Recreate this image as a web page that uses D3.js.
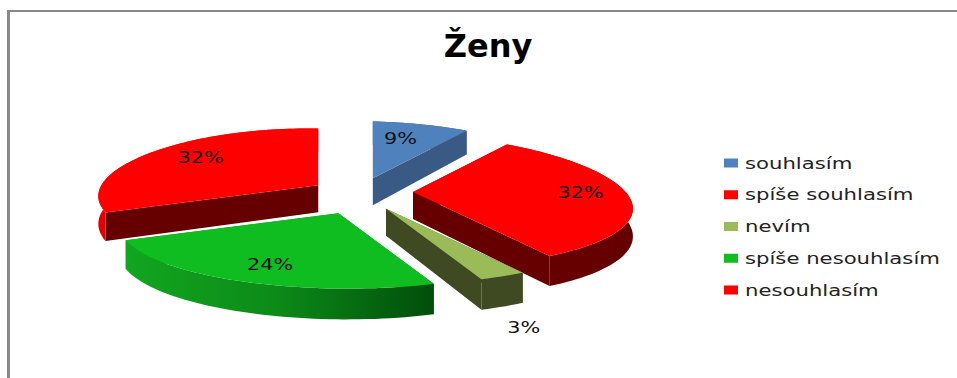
<!DOCTYPE html>
<html>
<head>
<meta charset="utf-8">
<script src="https://cdn.jsdelivr.net/npm/d3@7"></script>
<style>
  html, body { margin: 0; padding: 0; background: #fff; }
  svg { display: block; }
  text { font-family: "DejaVu Sans", sans-serif; }
</style>
</head>
<body>
<svg id="chart" width="957" height="378"></svg>
<script>
/* Data */
const categories = ["souhlasím", "spíše souhlasím", "nevím", "spíše nesouhlasím", "nesouhlasím"];
const shares = [9, 32, 3, 24, 32];
const title = "Ženy";

/* Colours per slice */
const topColors = ["#4f81bd", "#ff0000", "#9bbb59", "#0fbd21", "#ff0000"];
const cutColors = ["#3a5a86", "#660000", "#404a22", "#0c9a1a", "#660000"];
const wallColors = ["#3a5a86", "#660000", "#404a22", "url(#green-wall)", "#e00000"];

/* Pie geometry */
const cx = 360, cy = 192;
const radius = 215, tilt = 0.307, perspectiveX = 0.22, perspectiveY = 0.14;
const depth = 27, explode = 53, explodeTilt = 0.27;

/* Small per-slice shifts of the apex, and label nudges from 0.7 radius */
const apexNudge = [[-2, 0], [0, 0], [2, 4], [-2, 8], [3, 1]];
const labelNudge = [[-8, 0], [17, -2], [60, 73], [-5, 5], [-1, -3]];

const svg = d3.select("#chart");
const defs = svg.append("defs");

const greenWall = defs.append("linearGradient")
    .attr("id", "green-wall")
    .attr("gradientUnits", "userSpaceOnUse")
    .attr("x1", 125).attr("x2", 430).attr("y1", 0).attr("y2", 0);
greenWall.append("stop").attr("offset", "0").attr("stop-color", "#12a620");
greenWall.append("stop").attr("offset", "0.5").attr("stop-color", "#0c8a18");
greenWall.append("stop").attr("offset", "1").attr("stop-color", "#014f0b");

/* Frame */
svg.append("line")
    .attr("x1", 8.5).attr("x2", 8.5).attr("y1", 10).attr("y2", 378)
    .attr("stroke", "#888").attr("stroke-width", 3);
svg.append("line")
    .attr("x1", 7).attr("x2", 957).attr("y1", 11).attr("y2", 11)
    .attr("stroke", "#888").attr("stroke-width", 2);

/* Project a pie point: angle a, distance r from the slice apex */
function project(slice, a, r, drop) {
    const mid = (slice.startAngle + slice.endAngle) / 2;
    const nudge = apexNudge[slice.index];
    const depthPos = (r * Math.cos(a)) / radius;
    const sx = 1 - perspectiveX * depthPos;
    const sy = 1 - perspectiveY * depthPos;
    const ax = cx + explode * Math.sin(mid) + nudge[0];
    const ay = cy - explode * explodeTilt * Math.cos(mid) + nudge[1];
    return [
        ax + r * Math.sin(a) * sx,
        ay - r * Math.cos(a) * tilt * sy + (drop ? depth * sy : 0) + 3 * Math.sin(a) * r / radius
    ];
}

function arcAngles(a0, a1) {
    const n = Math.max(2, Math.ceil((a1 - a0) / 0.03));
    return d3.range(n + 1).map(i => a0 + (a1 - a0) * i / n);
}

const line = d3.line().curve(d3.curveLinear);
const pie = d3.pie().sort(null).value(d => d)(shares);

/* Draw back slices first */
const drawOrder = [0, 4, 1, 3, 2];

drawOrder.forEach(i => {
    const d = pie[i];
    const g = svg.append("g").attr("class", "slice");
    const angles = arcAngles(d.startAngle, d.endAngle);
    const rim = angles.map(a => project(d, a, radius));
    const rimLow = angles.map(a => project(d, a, radius, true)).reverse();

    // cut faces at both edges of the slice
    [d.startAngle, d.endAngle].forEach(a => {
        const pts = [project(d, a, 0), project(d, a, radius), project(d, a, radius, true), project(d, a, 0, true)];
        g.append("path").attr("d", line(pts) + "Z").attr("fill", cutColors[i]);
    });

    // outer wall
    g.append("path").attr("d", line(rim.concat(rimLow)) + "Z").attr("fill", wallColors[i]);

    // top face
    const topPts = [project(d, 0, 0)].concat(rim);
    g.append("path").attr("d", line(topPts) + "Z").attr("fill", topColors[i]);
});

/* Percent labels */
pie.forEach((d, i) => {
    const mid = (d.startAngle + d.endAngle) / 2;
    const p = project(d, mid, radius * 0.7);
    svg.append("text")
        .attr("transform", `translate(${p[0] + labelNudge[i][0]},${p[1] + labelNudge[i][1]}) scale(1.3,1)`)
        .attr("dy", "0.35em")
        .attr("text-anchor", "middle")
        .style("font-size", "16px")
        .attr("fill", "#111")
        .text(d.value + "%");
});

/* Title */
svg.append("text")
    .attr("x", 488).attr("y", 57)
    .attr("text-anchor", "middle")
    .style("font-size", "32px")
    .style("font-weight", "bold")
    .attr("fill", "#000")
    .text(title);

/* Legend */
const legendY = d3.scalePoint().domain(categories).range([163, 290]);
const legend = svg.selectAll(".legend")
    .data(categories)
    .join("g")
    .attr("class", "legend")
    .attr("transform", c => `translate(724,${legendY(c)})`);
legend.append("rect")
    .attr("y", -4.5).attr("width", 14).attr("height", 9)
    .attr("fill", (c, i) => topColors[i]);
legend.append("text")
    .attr("transform", "translate(21,0) scale(1.325,1)")
    .attr("dy", "0.35em")
    .style("font-size", "16px")
    .attr("fill", "#222")
    .text(c => c);
</script>
</body>
</html>
